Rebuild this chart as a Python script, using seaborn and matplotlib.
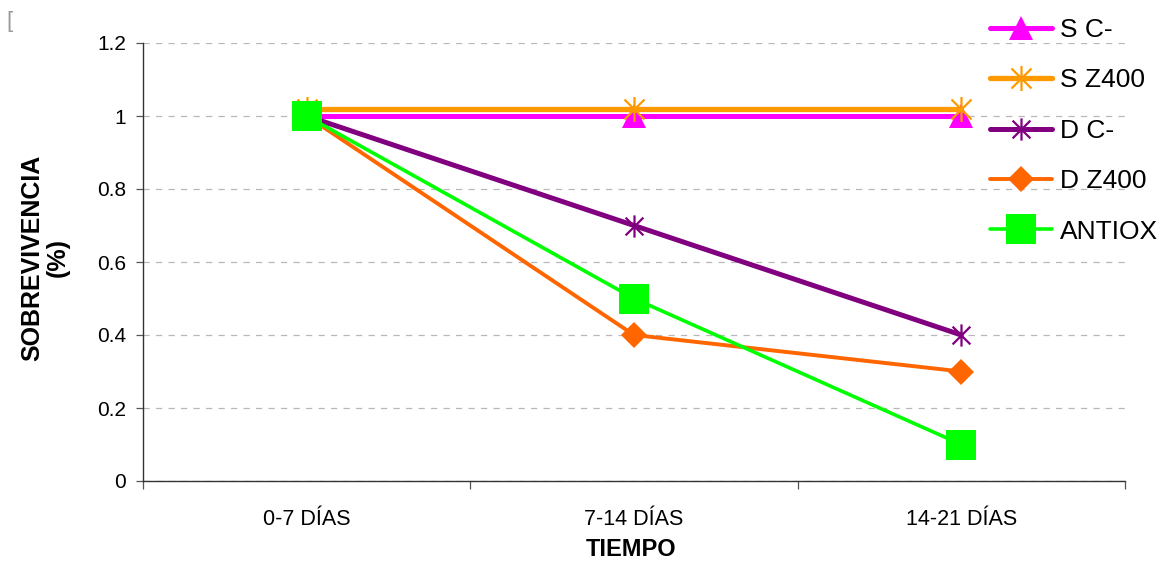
import numpy as np
import pandas as pd
import matplotlib
matplotlib.use("Agg")
import matplotlib.pyplot as plt
from matplotlib import font_manager
from matplotlib.path import Path
import seaborn as sns

# Survival data per treatment over three time windows
periods = ["0-7 DÍAS", "7-14 DÍAS", "14-21 DÍAS"]
s_cneg = [1.0, 1.0, 1.0]
s_z400 = [1.02, 1.02, 1.02]
d_cneg = [1.0, 0.7, 0.4]
d_z400 = [1.0, 0.4, 0.3]
antiox = [1.0, 0.5, 0.1]
series_names = ["S C-", "S Z400", "D C-", "D Z400", "ANTIOX"]
y_ticks = [0, 0.2, 0.4, 0.6, 0.8, 1, 1.2]
y_tick_labels = ["0", "0.2", "0.4", "0.6", "0.8", "1", "1.2"]

sns.set_theme(style="white")
available = {f.name for f in font_manager.fontManager.ttflist}
narrow = "Liberation Sans Narrow" if "Liberation Sans Narrow" in available else "Liberation Sans"
plt.rcParams["font.family"] = ["Liberation Sans", "DejaVu Sans"]
plt.rcParams["text.color"] = "black"
plt.rcParams["axes.labelcolor"] = "black"

# Excel-like asterisk: vertical bar plus an X
star = Path(
    [(0, -1), (0, 1), (-0.8, -0.8), (0.8, 0.8), (-0.8, 0.8), (0.8, -0.8)],
    [Path.MOVETO, Path.LINETO, Path.MOVETO, Path.LINETO, Path.MOVETO, Path.LINETO],
)

values = [s_cneg, s_z400, d_cneg, d_z400, antiox]
styles = [
    dict(color="#FF00FF", lw=3.6, marker="^", ms=17, mew=0),
    dict(color="#FF9900", lw=3.8, marker=star, ms=18, mew=1.6),
    dict(color="#800080", lw=3.6, marker=star, ms=16, mew=1.6),
    dict(color="#FF6600", lw=2.8, marker="D", ms=13, mew=0),
    dict(color="#00FF00", lw=2.6, marker="s", ms=21, mew=0),
]

fig = plt.figure(figsize=(11.62, 5.62), dpi=100)
ax = fig.add_axes([143 / 1162, 1 - 481 / 562, (1125 - 143) / 1162, (481 - 43) / 562])

x = np.arange(len(periods))
df = pd.DataFrame({"pos": np.tile(x, len(series_names)),
                   "valor": np.concatenate(values),
                   "serie": np.repeat(series_names, len(periods))})

for name, st in zip(series_names, styles):
    sub = df[df["serie"] == name]
    sns.lineplot(data=sub, x="pos", y="valor", ax=ax, color=st["color"],
                 linewidth=st["lw"], marker=st["marker"], markersize=st["ms"],
                 markeredgewidth=st["mew"], markeredgecolor=st["color"],
                 markerfacecolor=st["color"], label=name, clip_on=False,
                 errorbar=None, sort=False)

ax.set_xlim(-0.5, 2.5)
ax.set_ylim(0, 1.2)
ax.set_yticks(y_ticks)
ax.set_yticklabels(y_tick_labels, fontsize=15)
ax.yaxis.grid(True, color="#b8b8b8", linestyle=(0, (5, 5)), linewidth=0.9)
ax.set_axisbelow(True)

# Category boundaries as ticks, labels centred on each category
ax.set_xticks([-0.5, 0.5, 1.5, 2.5])
ax.set_xticklabels([])
ax.set_xticks(x, minor=True)
ax.set_xticklabels(periods, minor=True, fontsize=15.5, family=[narrow, "DejaVu Sans"])
ax.tick_params(axis="x", which="minor", length=0, pad=20, labelcolor="black")
ax.tick_params(axis="x", which="major", direction="out", length=6, width=0.9, color="#555555", bottom=True)
ax.tick_params(axis="y", direction="out", length=5, width=0.9, color="#555555", left=True, pad=7,
               labelcolor="black")

for side in ["top", "right"]:
    ax.spines[side].set_visible(False)
for side in ["left", "bottom"]:
    ax.spines[side].set_color("#333333")
    ax.spines[side].set_linewidth(1.0)

ax.set_xlabel("TIEMPO", fontsize=17, fontweight="bold", family=[narrow, "DejaVu Sans"])
ax.xaxis.set_label_coords(0.497, -0.130)
ax.set_ylabel("SOBREVIVENCIA\n(%)", fontsize=18, fontweight="bold", linespacing=1.1)
ax.yaxis.set_label_coords(-0.0745, 0.51)

handles, labels = ax.get_legend_handles_labels()
ax.legend_.remove()
fig.legend(handles, labels, loc="upper left", bbox_to_anchor=(990 / 1162, 1 - 18 / 562),
           frameon=False, fontsize=19, handlelength=2.35, handletextpad=0.3,
           labelspacing=1.0, borderpad=0, borderaxespad=0, numpoints=1, labelcolor="black")

fig.text(6 / 1162, 1 - 22 / 562, "[", fontsize=16, color="#999999", va="center")

fig.savefig("out.png", dpi=100)
